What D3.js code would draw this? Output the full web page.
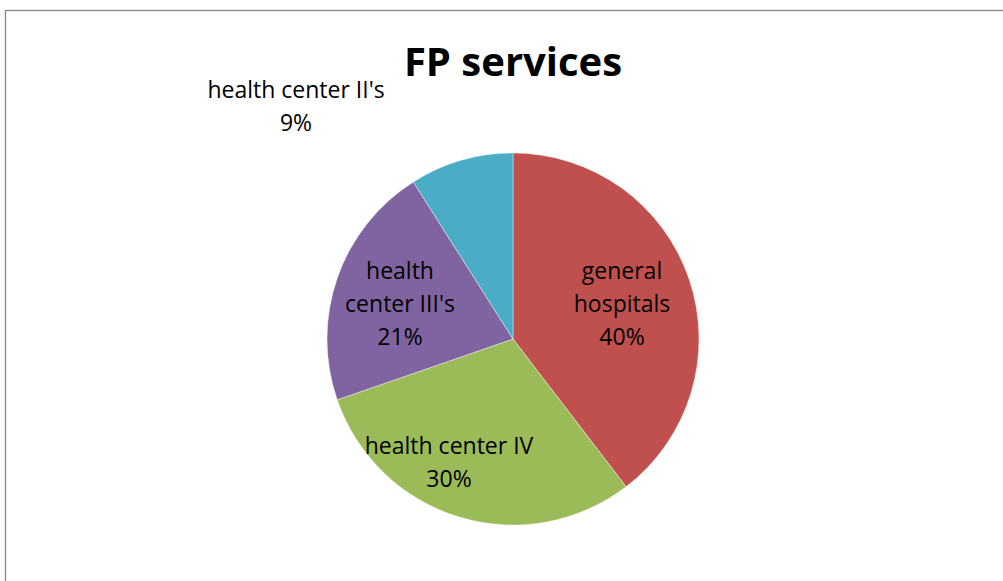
<!DOCTYPE html>
<html>
<head>
<meta charset="utf-8">
<script src="https://cdn.jsdelivr.net/npm/d3@7"></script>
<style>
  body { margin: 0; background: #fff; }
  svg { display: block; font-family: "Open Sans", "Noto Sans", sans-serif; }
</style>
</head>
<body>
<div id="container"></div>
<script>
/* CONSTANTS AND GLOBALS */
const width = 1003,
  height = 581;

// data (share of FP services, percent)
const categories = ["general hospitals", "health center IV", "health center III's", "health center II's"];
const shares = [39.6, 30.1, 21.3, 9.0];
const colors = ["#C0504D", "#9BBB59", "#8064A2", "#4BACC6"];
// label lines (category split as in the picture)
const labelLines = [["general", "hospitals"], ["health center IV"], ["health", "center III's"], ["health center II's"]];

const data = categories.map((c, i) => ({ name: c, value: shares[i], lines: labelLines[i] }));

const cx = 513, cy = 339, radius = 186;

const svg = d3.select("#container").append("svg")
  .attr("width", width)
  .attr("height", height);

// chart frame
svg.append("rect")
  .attr("x", 5.5)
  .attr("y", 10.5)
  .attr("width", width + 20)
  .attr("height", height + 20)
  .attr("fill", "none")
  .attr("stroke", "#868686")
  .attr("stroke-width", 1.3);

// title
svg.append("text")
  .attr("x", 513)
  .attr("y", 76)
  .attr("text-anchor", "middle")
  .attr("font-size", 40)
  .attr("font-weight", "bold")
  .text("FP services");

/* PIE */
const pie = d3.pie().sort(null).value(d => d.value);
const arc = d3.arc().innerRadius(0).outerRadius(radius);
const arcs = pie(data);

const g = svg.append("g").attr("transform", `translate(${cx},${cy})`);

g.selectAll("path.slice")
  .data(arcs)
  .join("path")
  .attr("class", "slice")
  .attr("d", arc)
  .attr("fill", (d, i) => colors[i])
  .attr("stroke", "#fff")
  .attr("stroke-width", 0.4);

// label centres, nudged like the original (small slice label sits outside)
const labelPos = [[109, -35], [-64, 123], [-113, -35], [-217, -233]];
const lineH = 33;
const fmt = d => Math.round(d.value) + "%";

g.selectAll("text.lbl")
  .data(arcs)
  .join("text")
  .attr("class", "lbl")
  .attr("text-anchor", "middle")
  .attr("font-size", 23)
  .attr("fill", "#000")
  .each(function (d, i) {
    const [x, y] = labelPos[i];
    const lines = d.data.lines.concat([fmt(d)]);
    const t = d3.select(this);
    lines.forEach((ln, k) => {
      t.append("tspan")
        .attr("x", x)
        .attr("y", y + k * lineH - (lines.length - 1) * lineH / 2)
        .attr("dy", "0.35em")
        .text(ln);
    });
  });
</script>
</body>
</html>
